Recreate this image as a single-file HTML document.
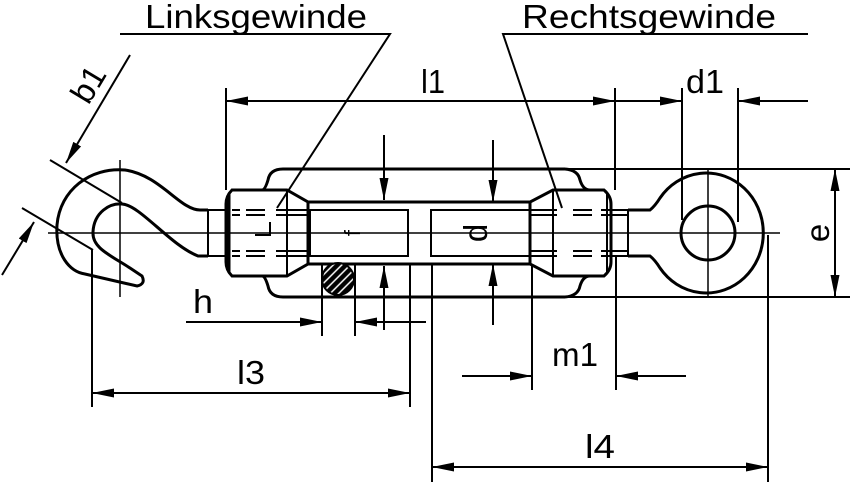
<!DOCTYPE html>
<html><head><meta charset="utf-8"><style>
html,body{margin:0;padding:0;background:#fff;width:854px;height:482px;overflow:hidden}
svg{display:block}
text{font-family:"Liberation Sans",sans-serif;font-size:33px;fill:#000}
</style></head><body>
<svg width="854" height="482" viewBox="0 0 854 482" xmlns="http://www.w3.org/2000/svg">
<defs>
<marker id="a" viewBox="0 0 22 9" refX="22" refY="4.5" markerWidth="22" markerHeight="9" markerUnits="userSpaceOnUse" orient="auto"><path d="M0,0 L22,4.5 L0,9 Z" fill="#000"/></marker>
<pattern id="hatch" width="6" height="6" patternUnits="userSpaceOnUse" patternTransform="rotate(-45)"><rect width="6" height="6" fill="#000"/><line x1="0" y1="3" x2="6" y2="3" stroke="#fff" stroke-width="1.5"/></pattern>
</defs>
<g fill="none" stroke="#000" stroke-width="2">
<polyline points="120,34 390,34 277,208"/>
<polyline points="808,34 503,34 562,208"/>
<line x1="48" y1="233" x2="780" y2="233" stroke-width="1.5"/>
<path d="M565,169 H283 Q270,169 268,180 Q265,190 262,190" stroke-width="3"/>
<path d="M565,169 Q578,170 580,180 Q583,190 590,190" stroke-width="3"/>
<path d="M565,297 H283 Q270,297 268,286 Q265,276 262,276" stroke-width="3"/>
<path d="M565,297 Q578,296 580,286 Q583,276 590,276" stroke-width="3"/>
<line x1="308" y1="202" x2="530" y2="202" stroke-width="3"/>
<line x1="308" y1="264" x2="530" y2="264" stroke-width="3"/>
<rect x="310" y="210" width="98" height="46" stroke-width="2"/>
<rect x="431" y="210" width="99" height="46" stroke-width="2"/>
<path d="M232,190 H287 L308,202 V264 L287,276 H232 Q226,270 226,262 V204 Q226,196 232,190 Z" stroke-width="3"/>
<line x1="287" y1="190" x2="287" y2="276"/>
<line x1="229" y1="193" x2="229" y2="273" stroke-width="3"/>
<path d="M553,190 H604 Q611,196 611,204 V262 Q611,270 604,276 H553 L530,264 V202 Z" stroke-width="3"/>
<line x1="553" y1="190" x2="553" y2="276"/>
<line x1="607" y1="193" x2="607" y2="273" stroke-width="2"/>
<g stroke-width="2">
<line x1="232" y1="210" x2="240" y2="210"/><line x1="246" y1="210" x2="265" y2="210"/><line x1="276" y1="210" x2="310" y2="210"/>
<line x1="232" y1="215" x2="240" y2="215"/><line x1="246" y1="215" x2="265" y2="215"/><line x1="276" y1="215" x2="310" y2="215"/>
<line x1="232" y1="251" x2="240" y2="251"/><line x1="246" y1="251" x2="265" y2="251"/><line x1="276" y1="251" x2="310" y2="251"/>
<line x1="232" y1="256" x2="240" y2="256"/><line x1="246" y1="256" x2="265" y2="256"/><line x1="276" y1="256" x2="310" y2="256"/>
<line x1="530" y1="210" x2="557" y2="210"/><line x1="573" y1="210" x2="592" y2="210"/><line x1="601" y1="210" x2="628" y2="210"/>
<line x1="530" y1="215" x2="557" y2="215"/><line x1="573" y1="215" x2="592" y2="215"/><line x1="601" y1="215" x2="628" y2="215"/>
<line x1="530" y1="251" x2="557" y2="251"/><line x1="573" y1="251" x2="592" y2="251"/><line x1="601" y1="251" x2="628" y2="251"/>
<line x1="530" y1="256" x2="557" y2="256"/><line x1="573" y1="256" x2="592" y2="256"/><line x1="601" y1="256" x2="628" y2="256"/>
</g>
<polyline points="270,222 270,235 255,235"/>
<rect x="208" y="210" width="18" height="46"/>
<path d="M208,210 H200 C180,210 160,175 125,170 C90,167 60,190 57,225 C55,255 70,272 85,274 L137,286 Q146,284 142,276 L130,268 C110,255 92,248 93,232 C94,212 110,203 122,204 C140,205 170,245 198,256 H208" stroke-width="3"/>
<line x1="120" y1="160" x2="120" y2="297" stroke-width="1.5"/>
<line x1="628" y1="210" x2="628" y2="256"/>
<path d="M628,210 H650 Q655,206 660,198 A57,60 0 1 1 660,268 Q655,260 650,256 H628" stroke-width="3"/>
<circle cx="708" cy="233" r="27" stroke-width="3"/>
<line x1="708" y1="170" x2="708" y2="296" stroke-width="1.5"/>
<circle cx="338" cy="279" r="16" fill="url(#hatch)" stroke-width="2"/>
<!-- l1 -->
<line x1="226" y1="88" x2="226" y2="190"/>
<line x1="615" y1="88" x2="615" y2="190"/>
<line x1="682" y1="88" x2="682" y2="220"/>
<line x1="738" y1="88" x2="738" y2="222"/>
<line x1="420" y1="101" x2="226" y2="101" marker-end="url(#a)"/>
<line x1="420" y1="101" x2="615" y2="101" marker-end="url(#a)"/>
<line x1="615" y1="101" x2="682" y2="101" marker-end="url(#a)"/>
<line x1="808" y1="101" x2="738" y2="101" marker-end="url(#a)"/>
<!-- e -->
<line x1="565" y1="169" x2="850" y2="169"/>
<line x1="565" y1="297" x2="850" y2="297"/>
<line x1="835" y1="233" x2="835" y2="169" marker-end="url(#a)"/>
<line x1="835" y1="233" x2="835" y2="297" marker-end="url(#a)"/>
<!-- d -->
<line x1="493" y1="140" x2="493" y2="202" marker-end="url(#a)"/>
<line x1="493" y1="325" x2="493" y2="264" marker-end="url(#a)"/>
<!-- f -->
<line x1="384" y1="135" x2="384" y2="200" marker-end="url(#a)"/>
<line x1="384" y1="330" x2="384" y2="266" marker-end="url(#a)"/>
<!-- h -->
<line x1="322" y1="265" x2="322" y2="336"/>
<line x1="355" y1="265" x2="355" y2="336"/>
<line x1="186" y1="322" x2="322" y2="322" marker-end="url(#a)"/>
<line x1="426" y1="322" x2="355" y2="322" marker-end="url(#a)"/>
<!-- l3 -->
<line x1="92" y1="250" x2="92" y2="407"/>
<line x1="410" y1="264" x2="410" y2="407"/>
<line x1="250" y1="393" x2="92" y2="393" marker-end="url(#a)"/>
<line x1="250" y1="393" x2="410" y2="393" marker-end="url(#a)"/>
<!-- l4 -->
<line x1="432" y1="264" x2="432" y2="482"/>
<line x1="768" y1="235" x2="768" y2="482"/>
<line x1="600" y1="467" x2="432" y2="467" marker-end="url(#a)"/>
<line x1="600" y1="467" x2="768" y2="467" marker-end="url(#a)"/>
<!-- m1 -->
<line x1="532" y1="264" x2="532" y2="390"/>
<line x1="616" y1="256" x2="616" y2="390"/>
<line x1="462" y1="376" x2="532" y2="376" marker-end="url(#a)"/>
<line x1="686" y1="376" x2="616" y2="376" marker-end="url(#a)"/>
<!-- b1 -->
<line x1="50" y1="160" x2="122" y2="203"/>
<line x1="22" y1="208" x2="93" y2="250"/>
<line x1="130" y1="55" x2="66" y2="163" marker-end="url(#a)"/>
<line x1="2" y1="275" x2="34" y2="222" marker-end="url(#a)"/>
</g>
<text x="145" y="28" textLength="222" lengthAdjust="spacingAndGlyphs">Linksgewinde</text>
<text x="522" y="28" textLength="254" lengthAdjust="spacingAndGlyphs">Rechtsgewinde</text>
<text x="421" y="93" textLength="24" lengthAdjust="spacingAndGlyphs">l1</text>
<text x="686" y="93" textLength="38" lengthAdjust="spacingAndGlyphs">d1</text>
<text x="193" y="313" textLength="20" lengthAdjust="spacingAndGlyphs">h</text>
<text x="237" y="384" textLength="28" lengthAdjust="spacingAndGlyphs">l3</text>
<text x="552" y="366" textLength="46" lengthAdjust="spacingAndGlyphs">m1</text>
<text x="585" y="458" textLength="30" lengthAdjust="spacingAndGlyphs">l4</text>
<text transform="translate(829,233) rotate(-90)" text-anchor="middle">e</text>
<text transform="translate(487,233) rotate(-90)" text-anchor="middle">d</text>
<text transform="translate(360,233) rotate(-90)" text-anchor="middle" style="font-size:22px">f</text>
<text transform="translate(98,90) rotate(-59)" text-anchor="middle">b1</text>
</svg>
</body></html>
